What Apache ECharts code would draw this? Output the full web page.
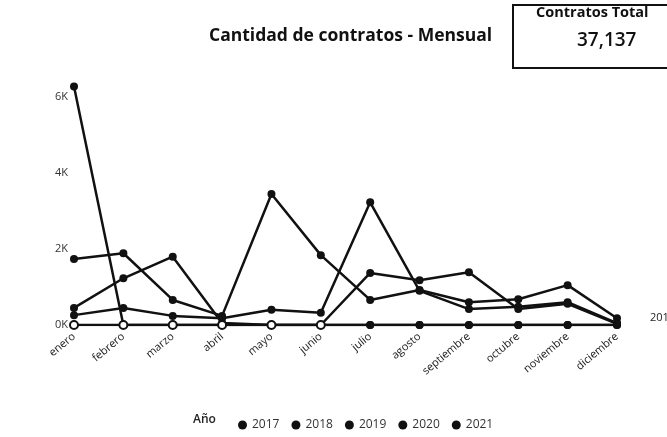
<!DOCTYPE html>
<html>
<head>
<meta charset="utf-8">
<script src="https://cdn.jsdelivr.net/npm/echarts@6/dist/echarts.min.js"></script>
<style>
  html, body { margin: 0; padding: 0; background: #fff; }
  #chart { width: 667px; height: 437px; }
</style>
</head>
<body>
<div id="chart"></div>
<script>
var months = ['enero', 'febrero', 'marzo', 'abril', 'mayo', 'junio', 'julio',
    'agosto', 'septiembre', 'octubre', 'noviembre', 'diciembre'];
var years = ['2017', '2018', '2019', '2020', '2021'];

var v2017 = [0, 0, 0, 0, 0, 0, 1370, 1180, 1390, 420, 560, 30];
var v2018 = [1740, 1890, 660, 240, 3450, 1840, 660, 920, 600, 680, 1050, 180];
var v2019 = [260, 450, 240, 180, 400, 320, 3230, 900, 420, 480, 600, 50];
var v2020 = [450, 1230, 1800, 50, 0, 0, 0, 0, 0, 0, 0, 0];
var v2021 = [6280, 0, 0, 0, 0, 0, 0, 0, 0, 0, 0, 0];

var totalText = '37,137';
var font = '"Open Sans", sans-serif';

function lineSeries(name, data, opts) {
    var s = {
        name: name,
        type: 'line',
        data: data,
        symbol: 'circle',
        symbolSize: 8,
        lineStyle: { width: 2.5, color: '#111' },
        itemStyle: { color: '#111' }
    };
    return Object.assign(s, opts || {});
}

// 2017 starts in julio: its empty months are drawn with open markers
var data2017 = v2017.map(function (v) {
    return { value: v, symbol: v === 0 ? 'emptyCircle' : 'circle' };
});

echarts.init(document.getElementById('chart')).setOption({
    animation: false,
    textStyle: { fontFamily: font },
    title: {
        text: 'Cantidad de contratos - Mensual',
        left: 204,
        top: 22,
        textStyle: { fontSize: 17.5, fontWeight: 'bold', color: '#111', fontFamily: font }
    },
    graphic: [
        {
            type: 'rect',
            shape: { x: 513, y: 5, width: 160, height: 63 },
            style: { fill: '#fff', stroke: '#111', lineWidth: 2 }
        },
        {
            type: 'text',
            left: 536,
            top: 5,
            style: { text: 'Contratos Total', fontSize: 14.5, fontWeight: 'bold', fill: '#111', fontFamily: font }
        },
        {
            type: 'text',
            left: 577,
            top: 31,
            style: { text: totalText, fontSize: 19, fontWeight: 600, fill: '#111', fontFamily: font }
        },
        {
            type: 'text',
            left: 193,
            top: 414,
            style: { text: 'Año', fontSize: 12, fontWeight: 600, fill: '#222', fontFamily: font }
        }
    ],
    legend: {
        data: years,
        left: 233,
        top: 414,
        icon: 'circle',
        itemWidth: 9,
        itemHeight: 9,
        itemGap: 12,
        textStyle: { fontSize: 12, color: '#333', fontFamily: font }
    },
    grid: {
        left: 74,
        right: 50,
        top: 82,
        bottom: 112
    },
    xAxis: {
        type: 'category',
        data: months,
        boundaryGap: false,
        axisLine: { show: false },
        axisTick: { show: false },
        axisLabel: {
            rotate: 40,
            margin: 10,
            fontSize: 11,
            color: '#222',
            fontFamily: font
        }
    },
    yAxis: {
        type: 'value',
        min: 0,
        max: 6400,
        interval: 2000,
        splitLine: { show: false },
        axisLine: { show: false },
        axisTick: { show: false },
        axisLabel: {
            margin: 6,
            fontSize: 11,
            color: '#333',
            fontFamily: font,
            formatter: function (value) {
                return value > 6000 ? '' : (value / 1000) + 'K';
            }
        }
    },
    series: [
        lineSeries('2017', data2017, { z: 5 }),
        lineSeries('2018', v2018, {
            endLabel: {
                show: true,
                formatter: '{a}',
                distance: 33,
                fontSize: 11,
                color: '#222',
                fontFamily: font
            }
        }),
        lineSeries('2019', v2019),
        lineSeries('2020', v2020),
        lineSeries('2021', v2021)
    ]
});
</script>
</body>
</html>
